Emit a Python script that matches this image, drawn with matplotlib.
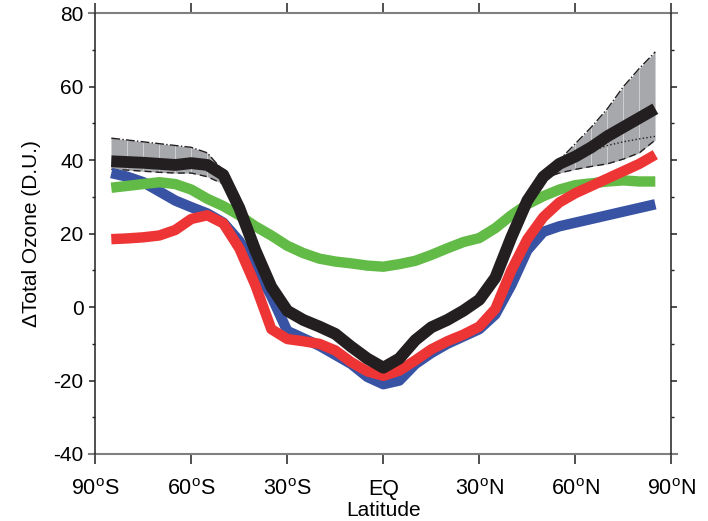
import numpy as np
import matplotlib
matplotlib.use('Agg')
import matplotlib.pyplot as plt
from matplotlib.lines import Line2D

plt.rcParams['font.family'] = ['Liberation Sans', 'DejaVu Sans']
plt.rcParams['mathtext.fontset'] = 'custom'
plt.rcParams['mathtext.rm'] = 'Liberation Sans'
plt.rcParams['axes.unicode_minus'] = False

# latitude of each point (degrees, south negative)
lat = [-85, -80, -75, -70, -65, -60, -55, -50, -45, -40, -35, -30, -25, -20, -15, -10, -5,
       0, 5, 10, 15, 20, 25, 30, 35, 40, 45, 50, 55, 60, 65, 70, 75, 80, 85]

blue = [36.5, 35.5, 34, 31.5, 29, 27.2, 25.5, 23, 18, 11, 3, -6.5, -8.5, -10.5, -13, -15.5, -19,
        -21, -20, -15.5, -12.5, -10, -8, -6, -2, 6, 15.5, 20.5, 22, 23, 24, 25, 26, 27, 28]
green = [32.5, 33, 33.5, 34, 33.5, 32, 29.5, 27.5, 25, 22, 19.5, 16.7, 14.7, 13.2, 12.4, 11.9, 11.3,
         11, 11.7, 12.6, 14.2, 16, 17.7, 18.8, 21.5, 25, 28, 30.2, 32, 33.2, 33.7, 34.2, 34.5, 34.2, 34.2]
red = [18.5, 18.7, 19, 19.5, 21, 24, 25, 22.8, 16, 6, -6, -8.7, -9.3, -10, -11.8, -15, -17.5,
       -18.7, -17.3, -14.5, -11.5, -9.3, -7.5, -5.3, -0.5, 10, 18.5, 24.5, 28.5, 31, 33, 35, 37, 39, 41.5]
black = [39.7, 39.5, 39.3, 39, 38.7, 39.2, 38.7, 36, 27, 15.5, 5.5, -1, -3.5, -5.3, -7.3, -10.8, -14,
         -16.5, -14, -9, -5.5, -3.5, -1, 2, 8, 19, 29, 35.5, 39, 41, 43.5, 46.5, 49, 51.5, 54]

# model spread (grey band), southern and northern parts
lat_s = [-85, -80, -75, -70, -65, -60, -55, -50]
hi_s = [46, 45.5, 45, 44.5, 44, 43.5, 42, 37]
lo_s = [37.5, 37.3, 37, 36.7, 36.5, 36.5, 35.5, 33.5]
lat_n = [50, 55, 60, 65, 70, 75, 80, 85]
hi_n = [37, 40, 44.5, 49, 54, 60, 65, 69.5]
lo_n = [35, 36.5, 37.5, 38.3, 39, 40.3, 42, 45.5]
lat_dot = [60, 65, 70, 75, 80, 85]
mid_dot = [41, 42.5, 44, 45, 45.8, 46.5]

xticks = [-90, -60, -30, 0, 30, 60, 90]
xlabels = ['90$^{\\rm o}$S', '60$^{\\rm o}$S', '30$^{\\rm o}$S', 'EQ',
           '30$^{\\rm o}$N', '60$^{\\rm o}$N', '90$^{\\rm o}$N']

fig = plt.figure(figsize=(7.08, 5.21), dpi=100)
ax = fig.add_axes([0.1346, 0.1286, 0.8136, 0.8459])

for la, hi, lo in ((lat_s, hi_s, lo_s), (lat_n, hi_n, lo_n)):
    ax.fill_between(la, lo, hi, color='#a6a8ab', lw=0, zorder=1)
    ax.vlines(la, lo, hi, color='#cfd0d2', lw=0.7, zorder=1.1)
    ax.plot(la, hi, color='#231f20', lw=1.0, ls='-.', zorder=1.2)
    ax.plot(la, lo, color='#231f20', lw=1.0, ls=(0, (5, 3)), zorder=1.2)
ax.plot(lat_dot, mid_dot, color='#231f20', lw=1.0, ls=':', zorder=1.2)

style = dict(solid_capstyle='butt', solid_joinstyle='round')
ax.plot(lat, blue, color='#3953a4', lw=7.5, zorder=2, **style)
ax.plot(lat, green, color='#62bb46', lw=7.5, zorder=3, **style)
ax.plot(lat, red, color='#ee3536', lw=7.5, zorder=4, **style)
ax.plot(lat, black, color='#231f20', lw=8.5, zorder=5, **style)

ax.set_xlim(-90, 90)
ax.set_ylim(-40, 80)
ax.set_xticks(xticks)
ax.set_xticklabels(xlabels)
ax.set_yticks(np.arange(-40, 81, 20))
ax.set_yticks(np.arange(-30, 80, 20), minor=True)

for s in ('top', 'bottom'):
    ax.spines[s].set_visible(False)
for s in ('left', 'right'):
    ax.spines[s].set_linewidth(1.1)
    ax.spines[s].set_color('#231f20')
for yy in (0, 1):
    ax.add_line(Line2D([-0.0104, 1.0104], [yy, yy], transform=ax.transAxes,
                       color='#7f7f7f', lw=1.5, clip_on=False))

ax.tick_params(axis='x', which='major', direction='out', length=7, width=1.1,
               top=True, bottom=True, labelsize=15.5, pad=11, color='#231f20')
ax.tick_params(axis='y', which='major', direction='out', length=4.5, width=1.1,
               left=True, right=True, labelsize=15, pad=4, color='#231f20')
ax.tick_params(axis='y', which='minor', direction='out', length=2.5, width=1.0,
               left=True, right=True, color='#231f20')
ax.tick_params(axis='x', which='minor', bottom=False, top=False)

ax.set_xlabel('Latitude', fontsize=15, labelpad=1)
ax.set_ylabel('\u0394Total Ozone (D.U.)', fontsize=15, labelpad=9)

plt.savefig('out.png', dpi=100)
